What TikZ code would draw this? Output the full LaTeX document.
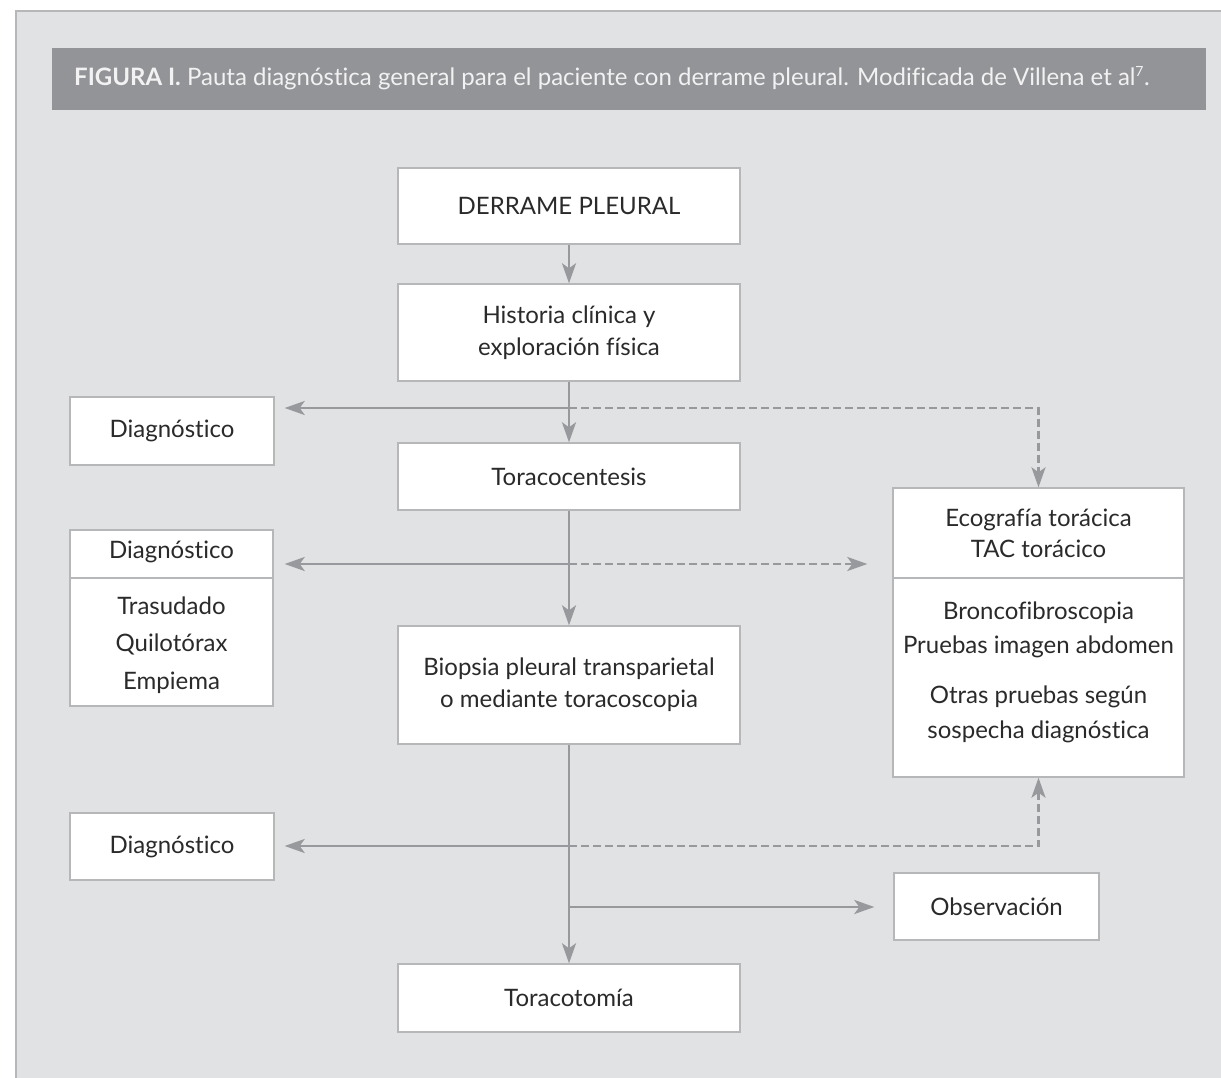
\documentclass[tikz,border=0pt]{standalone}
\usepackage{fontspec}
\setmainfont[Ligatures=NoCommon]{Lato}
\usetikzlibrary{arrows.meta}
\definecolor{bg}{HTML}{E1E2E4}
\definecolor{bar}{HTML}{939498}
\definecolor{ln}{HTML}{98999C}
\definecolor{bx}{HTML}{B6B7B9}
\definecolor{txt}{HTML}{2A2A2A}
\definecolor{ttl}{HTML}{F2F2F2}
\begin{document}
\begin{tikzpicture}[x=1pt,y=-1pt,
  box/.style={draw=bx, line width=1.4pt, fill=white, inner sep=0pt},
  lbl/.style={text=txt, font=\fontsize{24}{32}\selectfont, align=center, inner sep=0pt},
  conn/.style={draw=ln, line width=2.7pt, -{Stealth[length=20pt,width=14pt,inset=5pt]}},
  dconn/.style={conn, dash pattern=on 8pt off 4pt}]
\useasboundingbox (0,0) rectangle (1221,1078);
\fill[white] (0,0) rectangle (1221,1078);
\fill[bg] (16,11) rectangle (1221,1078);
\draw[bx, line width=1.5pt] (16,1078) -- (16,11) -- (1221,11);
\fill[bar] (52,48) rectangle (1206,110);
\node[anchor=base west, text=ttl, inner sep=0pt, font=\fontsize{24}{26}\selectfont] (title) at (74,86)
  {{\bfseries FIGURA I.} Pauta diagnóstica general para el paciente con derrame pleural. Modificada de Villena et al\textsuperscript{\fontsize{14}{14}\selectfont 7}.};

\node[box, lbl, minimum width=342pt, minimum height=76pt] (derr) at (569,206) {DERRAME PLEURAL};
\node[box, lbl, minimum width=342pt, minimum height=97pt] (hist) at (569,332.5) {Historia clínica y\\exploración física};
\node[box, lbl, minimum width=204pt, minimum height=68pt] (diag1) at (172,431) {Diagnóstico};
\node[box, lbl, minimum width=342pt, minimum height=67pt] (tora) at (569,476.5) {Toracocentesis};
\node[box, minimum width=203pt, minimum height=176pt] (diag2) at (171.5,618) {};
\draw[bx, line width=1.4pt] (diag2.west |- 0,578) -- (diag2.east |- 0,578);
\node[lbl] (d2a) at (171.5,552) {Diagnóstico};
\node[lbl, font=\fontsize{24}{37.5}\selectfont] (d2b) at (171.5,645) {Trasudado\\Quilotórax\\Empiema};
\node[box, minimum width=291pt, minimum height=289pt] (eco) at (1038.5,632.5) {};
\draw[bx, line width=1.4pt] (eco.west |- 0,578) -- (eco.east |- 0,578);
\node[lbl, font=\fontsize{24}{31}\selectfont] (e1) at (1038.5,533) {Ecografía torácica\\TAC torácico};
\node[lbl, font=\fontsize{24}{34}\selectfont] (e2) at (1038.5,630) {Broncofibroscopia\\Pruebas imagen abdomen};
\node[lbl, font=\fontsize{24}{35}\selectfont] (e3) at (1038.5,714.5) {Otras pruebas según\\sospecha diagnóstica};
\node[box, lbl, minimum width=342pt, minimum height=118pt] (biop) at (569,685) {Biopsia pleural transparietal\\o mediante toracoscopia};
\node[box, lbl, minimum width=204pt, minimum height=67pt] (diag3) at (172,846.5) {Diagnóstico};
\node[box, lbl, minimum width=205pt, minimum height=67pt] (obs) at (996.5,906.5) {Observación};
\node[box, lbl, minimum width=342pt, minimum height=68pt] (torac) at (569,998) {Toracotomía};

\draw[conn] (derr.south) -- (hist.north);
\draw[conn] (hist.south) -- (tora.north);
\coordinate (j1) at (569,408);
\draw[conn, shorten >=10pt] (j1) -- (diag1.east |- j1);
\draw[dconn] (j1) -- (eco.north |- j1) -- (eco.north);
\draw[conn] (tora.south) -- (biop.north);
\coordinate (j2) at (569,564);
\draw[conn, shorten >=11pt] (j2) -- (diag2.east |- j2);
\draw[dconn, shorten >=25pt] (j2) -- (eco.west |- j2);
\draw[conn] (biop.south) -- (torac.north);
\coordinate (j3) at (569,846);
\draw[conn, shorten >=10pt] (j3) -- (diag3.east |- j3);
\draw[dconn] (j3) -- (eco.south |- j3) -- (eco.south);
\coordinate (j4) at (569,907);
\draw[conn, shorten >=19pt] (j4) -- (obs.west |- j4);
\end{tikzpicture}
\end{document}
